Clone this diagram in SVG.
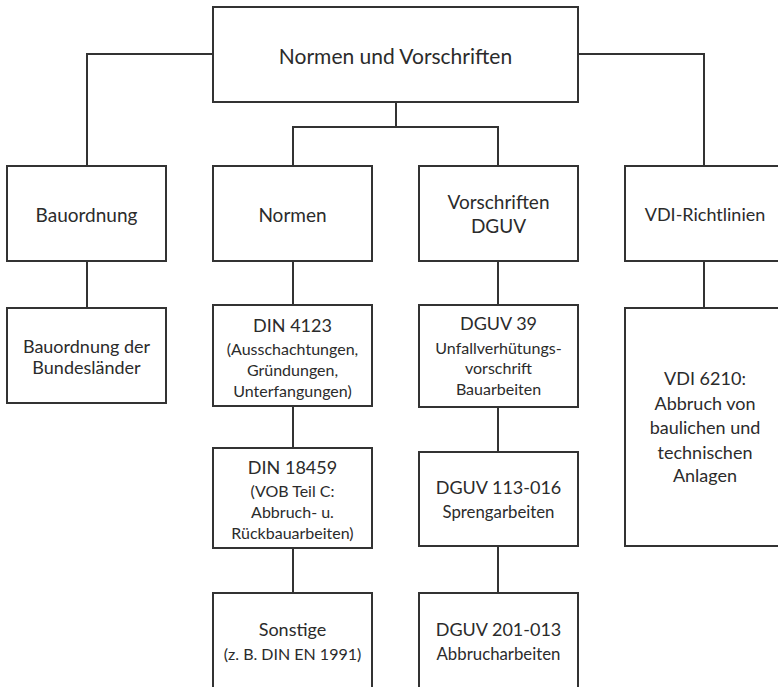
<svg xmlns="http://www.w3.org/2000/svg" width="778" height="687" viewBox="0 0 778 687">
<style>
rect{fill:#fff;stroke:#333;stroke-width:2}
.c path{fill:none;stroke:#333;stroke-width:2}
text{font-family:Lato,"Liberation Sans",sans-serif;fill:#2b2b2b;text-anchor:middle;dominant-baseline:central}
.t{font-size:21px}
.h{font-size:18px}
.h2{font-size:19px}
.s{font-size:16px}
.b{font-size:18px}
.x{font-size:16.8px}
</style>
<rect x="0" y="0" width="778" height="687" style="fill:#fff;stroke:none"/>
<g class="c" id="connectors">
<path d="M213 54H87V166"/>
<path d="M578 54H704V166"/>
<path d="M396 102V127M293 166V127H498V166"/>
<path d="M87 261V308"/>
<path d="M293 261V305"/>
<path d="M498 261V305"/>
<path d="M704 261V308"/>
<path d="M293 406V448"/>
<path d="M293 548V593"/>
<path d="M498 407V452"/>
<path d="M498 546V593"/>
</g>
<g id="root"><rect x="213" y="7" width="365" height="95"/><text class="t" x="395.5" y="55">Normen und Vorschriften</text></g>
<g id="bauordnung"><rect x="7" y="166" width="159" height="95"/><text class="h2" x="86.5" y="214">Bauordnung</text></g>
<g id="normen"><rect x="213" y="166" width="159" height="95"/><text class="h2" x="292.5" y="214">Normen</text></g>
<g id="dguv"><rect x="419" y="166" width="159" height="95"/><text class="h2" x="498.5" y="201">Vorschriften</text><text class="h2" x="498.5" y="225">DGUV</text></g>
<g id="vdi"><rect x="625" y="166" width="160" height="95"/><text class="h" x="705" y="214">VDI-Richtlinien</text></g>
<g id="bauordnung-laender"><rect x="7" y="308" width="159" height="95"/><text class="b" x="86.5" y="346">Bauordnung der</text><text class="b" x="86.5" y="367">Bundesländer</text></g>
<g id="din4123"><rect x="213" y="305" width="159" height="101"/><text class="h" x="292.5" y="325">DIN 4123</text><text class="s" x="292.5" y="348">(Ausschachtungen,</text><text class="s" x="292.5" y="369">Gründungen,</text><text class="s" x="292.5" y="390">Unterfangungen)</text></g>
<g id="din18459"><rect x="213" y="448" width="159" height="100"/><text class="h" x="292.5" y="467">DIN 18459</text><text class="s" x="292.5" y="490">(VOB Teil C:</text><text class="s" x="292.5" y="511">Abbruch- u.</text><text class="s" x="292.5" y="532">Rückbauarbeiten)</text></g>
<g id="sonstige"><rect x="213" y="593" width="159" height="110"/><text class="h" x="292.5" y="629">Sonstige</text><text class="s" x="292.5" y="653">(z. B. DIN EN 1991)</text></g>
<g id="dguv39"><rect x="419" y="305" width="159" height="102"/><text class="h" x="498.5" y="323">DGUV 39</text><text class="s" x="498.5" y="347">Unfallverhütungs-</text><text class="s" x="498.5" y="367">vorschrift</text><text class="s" x="498.5" y="388">Bauarbeiten</text></g>
<g id="dguv113"><rect x="419" y="452" width="159" height="94"/><text class="h" x="498.5" y="487">DGUV 113-016</text><text class="x" x="498.5" y="511">Sprengarbeiten</text></g>
<g id="dguv201"><rect x="419" y="593" width="159" height="110"/><text class="h" x="498.5" y="629">DGUV 201-013</text><text class="x" x="498.5" y="653">Abbrucharbeiten</text></g>
<g id="vdi6210"><rect x="625" y="308" width="160" height="238"/><text class="h" x="705" y="378">VDI 6210:</text><text class="h" x="705" y="403">Abbruch von</text><text class="h" x="705" y="427">baulichen und</text><text class="h" x="705" y="452">technischen</text><text class="h" x="705" y="475">Anlagen</text></g>
</svg>
